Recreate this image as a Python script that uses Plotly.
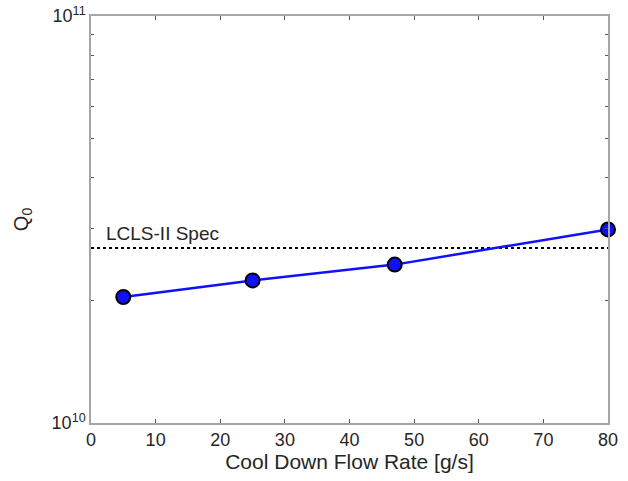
import math
import plotly.graph_objects as go

flow_rate = [5, 25, 47, 80]
q0 = [2.04e10, 2.24e10, 2.45e10, 2.99e10]
spec_value = 2.69e10
spec_x = [0, 80]
spec_label = "LCLS-II Spec"
x_ticks = [0, 10, 20, 30, 40, 50, 60, 70, 80]
y_tickvals = [1e10, 1e11]
y_ticktext = ["10<sup>10</sup>", "10<sup>11</sup>"]

fig = go.Figure()
fig.add_trace(go.Scatter(
    x=spec_x, y=[spec_value, spec_value], mode="lines",
    line=dict(color="black", width=2, dash="dot"), showlegend=False))
fig.add_trace(go.Scatter(
    x=flow_rate, y=q0, mode="lines+markers",
    line=dict(color="#1010ff", width=2.5),
    marker=dict(size=14, color="#1010ff", line=dict(color="black", width=2)),
    showlegend=False, cliponaxis=False))
fig.add_annotation(x=2, y=math.log10(spec_value), xref="x", yref="y", text=spec_label,
                   showarrow=False, xanchor="left", yanchor="bottom", yshift=2,
                   font=dict(size=19, color="#262626"))

axis_common = dict(showline=True, linecolor="#a6a6a6", linewidth=1.5, mirror="ticks",
                   ticks="inside", tickcolor="#555555", ticklen=4, showgrid=False,
                   zeroline=False, automargin=False, tickfont=dict(size=18, color="#262626"))
fig.update_xaxes(range=[0, 80], tickvals=x_ticks,
                 title=dict(text="Cool Down Flow Rate [g/s]", font=dict(size=21, color="#262626"), standoff=4),
                 **axis_common)
fig.update_yaxes(type="log", range=[10, 11], tickvals=y_tickvals, ticktext=y_ticktext,
                 minor=dict(ticks="inside", ticklen=3, tickcolor="#555555", dtick="D1", showgrid=False),
                 title=dict(text="Q<sub>0</sub>", font=dict(size=20, color="#262626"), standoff=18),
                 **axis_common)
fig.update_layout(width=628, height=481, plot_bgcolor="white", paper_bgcolor="white",
                  font=dict(family="Liberation Sans, Arial, sans-serif"),
                  margin=dict(l=91, r=20, t=16, b=58))
fig.write_html("out.html", config={"displayModeBar": False},
               post_script="document.body.style.margin='0';document.body.style.overflow='hidden';")
